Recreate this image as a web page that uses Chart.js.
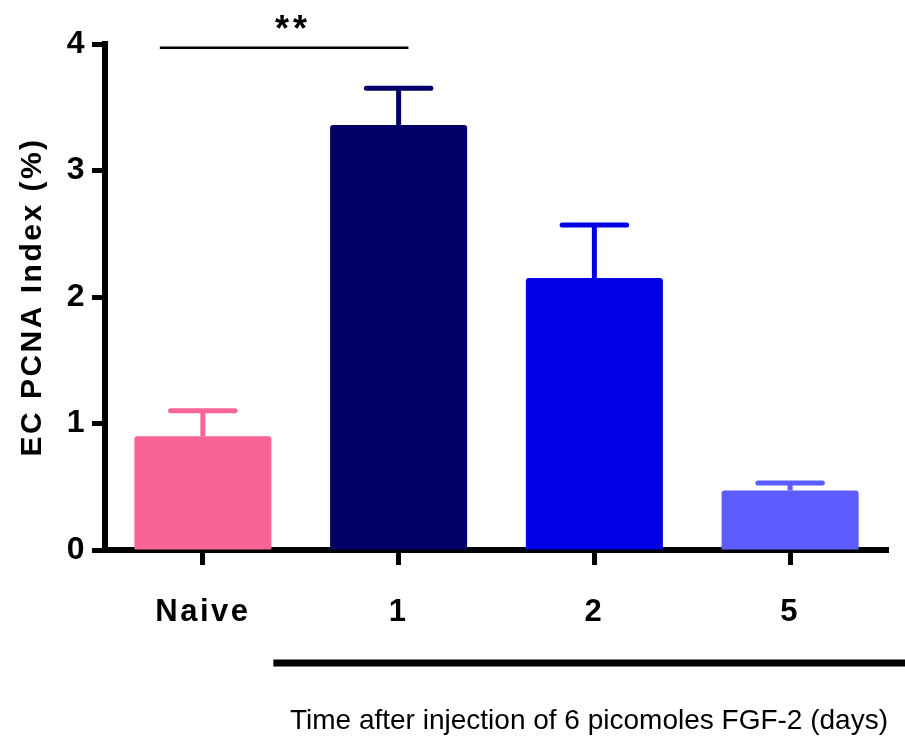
<!DOCTYPE html>
<html>
<head>
<meta charset="utf-8">
<script src="https://cdn.jsdelivr.net/npm/chart.js@4/dist/chart.umd.min.js"></script>
<style>
html,body{margin:0;padding:0;background:#fff;}
#wrap{width:905px;height:738px;position:relative;}
</style>
</head>
<body>
<div id="wrap"><canvas id="c" width="905" height="738"></canvas></div>
<script>
// ---- data ----
const categories = ['Naive', '1', '2', '5'];
const means = [0.90, 3.36, 2.15, 0.47];
const sem = [0.20, 0.29, 0.42, 0.06];
const barColors = ['#F86493', '#000066', '#0000E6', '#5B5BFF'];
const yTicks = [0, 1, 2, 3, 4];
const yTitle = 'EC PCNA Index (%)';
const xTitle = 'Time after injection of 6 picomoles FGF-2 (days)';
const sigLabel = '**';
const sigFrom = -0.22, sigTo = 1.05, sigValue = 3.97;
const sigLabelAt = 0.45;
const groupFrom = 0.36; // start of the bracket line under the FGF-2 groups

const FONT = 'Liberation Sans, Arial, Helvetica, sans-serif';

const decor = {
  id: 'decor',
  beforeDraw(chart) {
    chart.ctx.letterSpacing = '2.5px';
  },
  afterDatasetsDraw(chart) {
    const ctx = chart.ctx;
    const meta = chart.getDatasetMeta(0);
    const ys = chart.scales.y;
    ctx.save();
    ctx.lineWidth = 5;
    meta.data.forEach((bar, i) => {
      const x = bar.x;
      const yTop = ys.getPixelForValue(means[i]);
      const yErr = ys.getPixelForValue(means[i] + sem[i]);
      const half = bar.width / 4 - 2;
      ctx.strokeStyle = barColors[i];
      ctx.beginPath();
      ctx.lineCap = 'butt';
      ctx.moveTo(x, yTop);
      ctx.lineTo(x, yErr);
      ctx.stroke();
      ctx.lineCap = 'round';
      ctx.beginPath();
      ctx.moveTo(x - half, yErr);
      ctx.lineTo(x + half, yErr);
      ctx.stroke();
    });
    ctx.restore();
  },
  afterDraw(chart) {
    const ctx = chart.ctx;
    const xs = chart.scales.x, ys = chart.scales.y;
    ctx.save();
    // significance line
    const sy = ys.getPixelForValue(sigValue);
    ctx.strokeStyle = '#000';
    ctx.lineWidth = 2.5;
    ctx.beginPath();
    ctx.moveTo(xs.getPixelForValue(sigFrom), sy);
    ctx.lineTo(xs.getPixelForValue(sigTo), sy);
    ctx.stroke();
    ctx.fillStyle = '#000';
    ctx.letterSpacing = '4px';
    ctx.font = 'bold 36px ' + FONT;
    ctx.textAlign = 'center';
    ctx.textBaseline = 'alphabetic';
    ctx.fillText(sigLabel, xs.getPixelForValue(sigLabelAt) + 2, sy - 7);
    // group bracket line
    const ly = chart.chartArea.bottom + 113;
    ctx.lineWidth = 7;
    ctx.beginPath();
    ctx.moveTo(xs.getPixelForValue(groupFrom), ly);
    ctx.lineTo(chart.width, ly);
    ctx.stroke();
    // x title
    ctx.letterSpacing = '0px';
    ctx.font = '28px ' + FONT;
    ctx.textAlign = 'right';
    ctx.textBaseline = 'middle';
    ctx.fillText(xTitle, chart.chartArea.right, chart.chartArea.bottom + 171);
    ctx.restore();
  }
};

new Chart(document.getElementById('c'), {
  type: 'bar',
  data: {
    labels: categories,
    datasets: [{
      data: means,
      backgroundColor: barColors,
      borderWidth: 0,
      borderRadius: 3,
      barPercentage: 0.7,
      categoryPercentage: 1.0
    }]
  },
  options: {
    responsive: false,
    animation: false,
    devicePixelRatio: 1,
    layout: { padding: { top: 44, right: 17, left: 0, bottom: 0 } },
    plugins: { legend: { display: false }, tooltip: { enabled: false } },
    scales: {
      x: {
        offset: true,
        grid: { display: true, offset: false, drawOnChartArea: false, drawTicks: true, tickLength: 15, tickWidth: 5, tickColor: '#000' },
        border: { display: true, width: 6, color: '#000' },
        ticks: { color: '#000', font: { family: FONT, size: 31, weight: 'bold' }, padding: 29, maxRotation: 0 },
        afterFit(s) { s.height = 188; }
      },
      y: {
        min: 0, max: 4,
        afterBuildTicks(s) { s.ticks = yTicks.map(v => ({ value: v })); },
        grid: { display: true, drawOnChartArea: false, drawTicks: true, tickLength: 13, tickWidth: 5, tickColor: '#000' },
        border: { display: true, width: 6, color: '#000' },
        ticks: { color: '#000', font: { family: FONT, size: 32, weight: 'bold' }, padding: 5 },
        title: { display: true, text: yTitle, color: '#000', font: { family: FONT, size: 30, weight: 'bold' }, padding: { top: 15, bottom: 0 } },
        afterFit(s) { s.width = 105; }
      }
    }
  },
  plugins: [decor]
});
</script>
</body>
</html>
